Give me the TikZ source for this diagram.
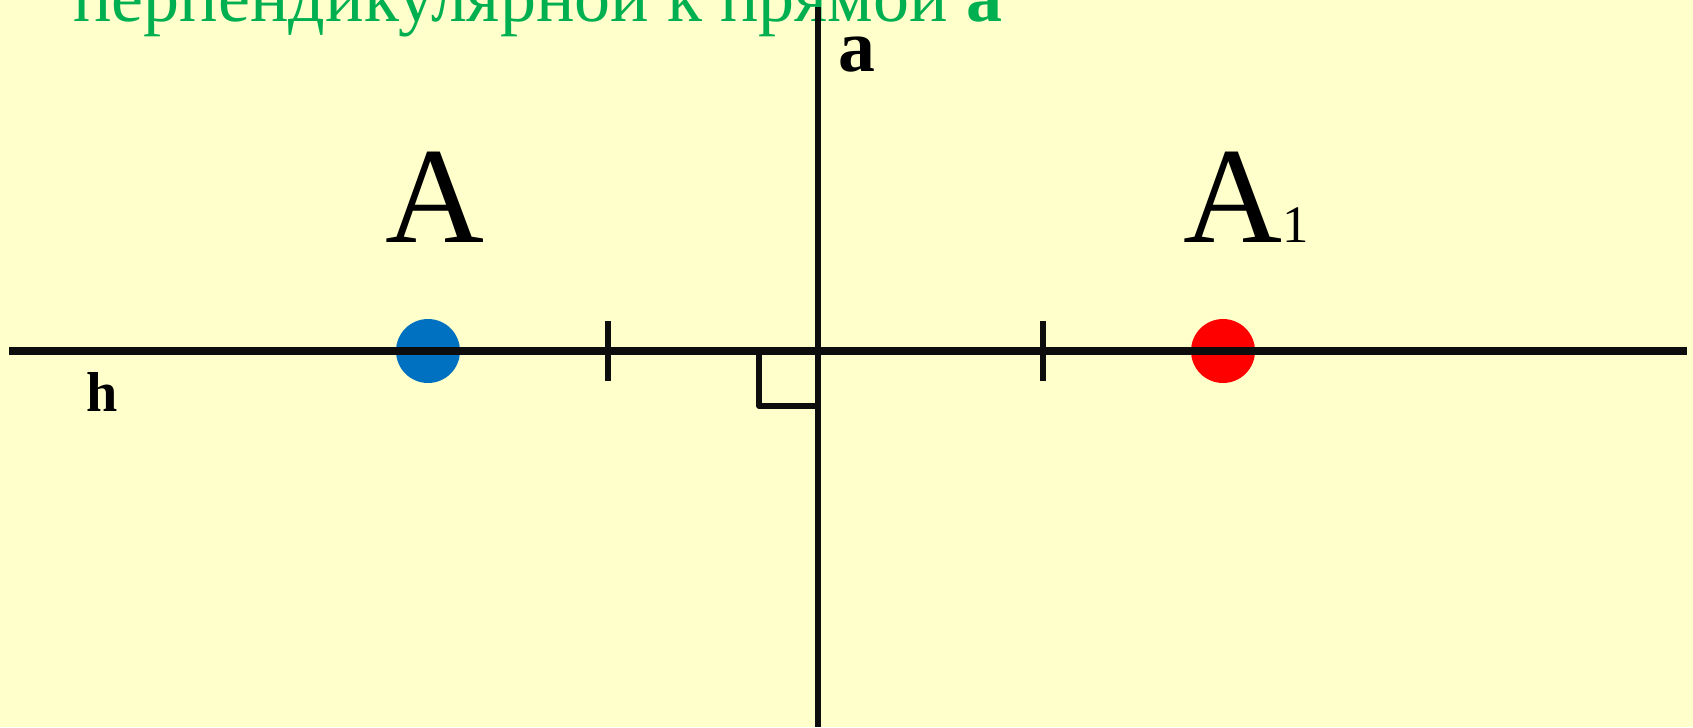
\documentclass[tikz,border=0pt]{standalone}
\usepackage{fontspec}
\setmainfont{Liberation Serif}
\definecolor{bg}{HTML}{FFFFCC}
\definecolor{titlegreen}{HTML}{00B050}
\definecolor{dotblue}{HTML}{0070C0}
\definecolor{dotred}{HTML}{FF0000}
\definecolor{ink}{HTML}{0D0D0D}

\begin{document}
\begin{tikzpicture}[x=0.02cm,y=-0.02cm,inner sep=0pt,
  dot/.style={circle,minimum size=1.28cm},
  tickmark/.style={ink,line width=2.9pt},
  axis/.style={ink,line width=4.2pt}]
\fill[bg] (0,0) rectangle (1693,727);
\useasboundingbox (0,0) rectangle (1693,727);

\node[anchor=base west,text=titlegreen,font=\fontsize{41}{41}\selectfont] (title) at (73,21) {перпендикулярной к прямой \textbf{a}};

\node[dot,fill=dotblue] (A) at (428,351) {};
\node[dot,fill=dotred] (A1) at (1223,351) {};
\node[anchor=base,font=\fontsize{78}{78}\selectfont] (labA) at (435,242) {A};
\node[anchor=base west,font=\fontsize{78}{78}\selectfont] (labA1) at (1183,242) {A\fontsize{30}{30}\selectfont 1};

\coordinate (h0) at (9,351);
\coordinate (h1) at (1687,351);
\coordinate (a0) at (818,7);
\coordinate (a1) at (818,727);
\draw[axis] (h0) -- (h1);
\draw[axis,line width=3.4pt] (a0) -- (a1);
\node[anchor=base west,font=\fontsize{42}{42}\selectfont\bfseries] (laba) at (838,71) {a};
\node[anchor=base west,font=\fontsize{32}{32}\selectfont\bfseries] (labh) at (86,411) {h};

\foreach \x in {608,1043}
  \draw[tickmark] (\x,321) -- (\x,381);
%\draw[tickmark] (A) -- (A1);
\draw[tickmark,line join=round] (759,351) -- (759,406) -- (818,406);
\end{tikzpicture}
\end{document}
